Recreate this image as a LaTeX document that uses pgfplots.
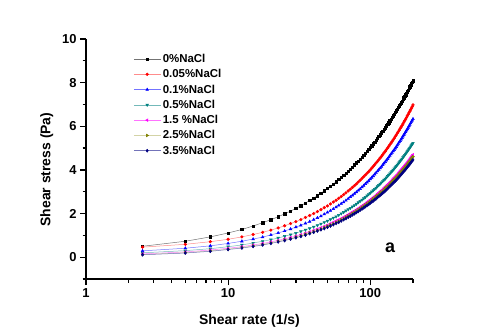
\documentclass[border=0pt]{standalone}
\usepackage{fontspec}
\setmainfont{Liberation Sans}
\usepackage{pgfplots}
\usepackage{pgfplotstable}
\pgfplotsset{compat=1.18}
\definecolor{cteal}{RGB}{0,128,128}
\definecolor{colive}{RGB}{128,128,0}
\definecolor{cnavy}{RGB}{0,0,128}
\definecolor{cmag}{RGB}{255,0,255}

% shear rate, then stress for 0, 0.05, 0.1, 0.5, 1.5, 2.5, 3.5 % NaCl
\pgfplotstableread{
x     a    b    c    d    e    f    g
2.5   0.50 0.46 0.29 0.20 0.15 0.12 0.11
5     0.73 0.59 0.41 0.30 0.24 0.21 0.19
7.5   0.93 0.71 0.52 0.39 0.33 0.29 0.27
10    1.11 0.82 0.63 0.48 0.41 0.37 0.35
12.5  1.27 0.93 0.73 0.56 0.48 0.45 0.42
15    1.43 1.04 0.83 0.65 0.56 0.52 0.49
17.5  1.58 1.14 0.92 0.73 0.63 0.59 0.56
20    1.72 1.24 1.02 0.80 0.70 0.66 0.63
22.5  1.85 1.34 1.11 0.88 0.77 0.73 0.70
25    1.99 1.44 1.20 0.96 0.84 0.80 0.76
27.5  2.11 1.54 1.29 1.03 0.90 0.86 0.83
30    2.24 1.63 1.38 1.10 0.97 0.93 0.89
32.5  2.36 1.72 1.46 1.18 1.03 0.99 0.95
35    2.48 1.82 1.55 1.25 1.10 1.06 1.01
37.5  2.60 1.91 1.63 1.32 1.16 1.12 1.08
40    2.71 2.00 1.72 1.39 1.23 1.18 1.14
42.5  2.82 2.09 1.80 1.46 1.29 1.24 1.20
45    2.93 2.18 1.88 1.53 1.35 1.30 1.26
47.5  3.04 2.27 1.97 1.60 1.41 1.37 1.31
50    3.15 2.35 2.05 1.66 1.47 1.43 1.37
52.5  3.25 2.44 2.13 1.73 1.54 1.49 1.43
55    3.35 2.53 2.21 1.80 1.60 1.54 1.49
57.5  3.46 2.61 2.29 1.86 1.66 1.60 1.55
60    3.56 2.70 2.37 1.93 1.72 1.66 1.60
62.5  3.65 2.78 2.45 2.00 1.77 1.72 1.66
65    3.75 2.87 2.52 2.06 1.83 1.78 1.72
67.5  3.85 2.95 2.60 2.13 1.89 1.84 1.77
70    3.95 3.04 2.68 2.19 1.95 1.89 1.83
72.5  4.04 3.12 2.76 2.25 2.01 1.95 1.88
75    4.13 3.20 2.83 2.32 2.07 2.01 1.94
77.5  4.23 3.28 2.91 2.38 2.12 2.06 1.99
80    4.32 3.36 2.98 2.44 2.18 2.12 2.05
82.5  4.41 3.45 3.06 2.51 2.24 2.18 2.10
85    4.50 3.53 3.13 2.57 2.29 2.23 2.16
87.5  4.59 3.61 3.21 2.63 2.35 2.29 2.21
90    4.68 3.69 3.28 2.69 2.40 2.34 2.26
92.5  4.77 3.77 3.36 2.75 2.46 2.40 2.32
95    4.86 3.85 3.43 2.82 2.52 2.45 2.37
97.5  4.94 3.92 3.50 2.88 2.57 2.51 2.42
100   5.03 4.00 3.58 2.94 2.63 2.56 2.48
102.5 5.11 4.08 3.65 3.00 2.68 2.62 2.53
105   5.20 4.16 3.72 3.06 2.74 2.67 2.58
107.5 5.28 4.24 3.80 3.12 2.79 2.72 2.63
110   5.37 4.32 3.87 3.18 2.84 2.78 2.68
112.5 5.45 4.39 3.94 3.24 2.90 2.83 2.74
115   5.53 4.47 4.01 3.30 2.95 2.88 2.79
117.5 5.61 4.55 4.08 3.36 3.01 2.94 2.84
120   5.70 4.62 4.15 3.42 3.06 2.99 2.89
122.5 5.78 4.70 4.23 3.48 3.11 3.04 2.94
125   5.86 4.78 4.30 3.54 3.17 3.09 2.99
127.5 5.94 4.85 4.37 3.59 3.22 3.15 3.04
130   6.02 4.93 4.44 3.65 3.27 3.20 3.09
132.5 6.09 5.00 4.51 3.71 3.33 3.25 3.14
135   6.17 5.08 4.58 3.77 3.38 3.30 3.20
137.5 6.25 5.16 4.65 3.83 3.43 3.35 3.25
140   6.33 5.23 4.72 3.89 3.48 3.41 3.30
142.5 6.41 5.30 4.79 3.94 3.53 3.46 3.35
145   6.48 5.38 4.86 4.00 3.59 3.51 3.40
147.5 6.56 5.45 4.92 4.06 3.64 3.56 3.45
150   6.64 5.53 4.99 4.12 3.69 3.61 3.49
152.5 6.71 5.60 5.06 4.17 3.74 3.66 3.54
155   6.79 5.68 5.13 4.23 3.79 3.71 3.59
157.5 6.86 5.75 5.20 4.29 3.85 3.76 3.64
160   6.94 5.82 5.27 4.34 3.90 3.81 3.69
162.5 7.01 5.90 5.33 4.40 3.95 3.86 3.74
165   7.08 5.97 5.40 4.46 4.00 3.91 3.79
167.5 7.16 6.04 5.47 4.51 4.05 3.96 3.84
170   7.23 6.11 5.54 4.57 4.10 4.01 3.89
172.5 7.30 6.19 5.61 4.62 4.15 4.07 3.94
175   7.38 6.26 5.67 4.68 4.20 4.12 3.98
177.5 7.45 6.33 5.74 4.74 4.25 4.16 4.03
180   7.52 6.40 5.81 4.79 4.30 4.21 4.08
182.5 7.59 6.48 5.87 4.85 4.35 4.26 4.13
185   7.66 6.55 5.94 4.90 4.40 4.31 4.18
187.5 7.74 6.62 6.01 4.96 4.45 4.36 4.22
190   7.81 6.69 6.07 5.01 4.50 4.41 4.27
192.5 7.88 6.76 6.14 5.07 4.55 4.46 4.32
195   7.95 6.83 6.21 5.12 4.60 4.51 4.37
197.5 8.02 6.90 6.27 5.18 4.65 4.56 4.42
200   8.09 6.98 6.34 5.23 4.70 4.61 4.46
}\datatable

\begin{document}
\begin{tikzpicture}
\begin{axis}[
    scale only axis, width=327bp, height=240bp,
    xmode=log, xmin=1, xmax=200,
    ymin=-1, ymax=10,
    axis lines=left,
    axis line style={-, line width=1.1pt},
    tick align=outside,
    major tick length=6bp,
    minor tick length=3.5bp,
    tick style={black, line width=1.2pt},
    xtick={1,10,100}, xticklabels={1,10,100},
    minor xtick={2,3,4,5,6,7,8,9,20,30,40,50,60,70,80,90,200},
    ytick={0,2,4,6,8,10}, minor ytick={-1,1,3,5,7,9},
    /pgf/number format/assume math mode=true,
    yticklabel style={font=\bfseries\fontsize{13}{13}\selectfont},
    xticklabel style={font=\bfseries\fontsize{13}{13}\selectfont},
    xlabel={Shear rate (1/s)}, ylabel={Shear stress (Pa)},
    label style={font=\bfseries\fontsize{14}{14}\selectfont},
    xlabel style={at={(axis description cs:0.5,-0.174)}, anchor=center},
    ylabel style={at={(axis description cs:-0.12,0.456)}, anchor=center},
    legend style={draw=none, fill=none, at={(axis description cs:0.145,0.946)},
        anchor=north west, font=\bfseries\fontsize{11.5}{12}\selectfont,
        row sep=1.5bp, inner sep=0pt},
    legend cell align=left,
    legend image code/.code={\draw[mark repeat=2,mark phase=2]
        plot coordinates {(0cm,0cm) (0.47cm,0cm) (0.94cm,0cm)};},
    every axis plot/.append style={line width=0.5pt, mark size=1.5pt},
]
\addplot[black!55, mark=square*, mark options={black, fill=black, scale=0.8}] table[x=x,y=a] {\datatable};
\addplot[red!45, mark=*, mark options={red, fill=red, scale=0.9}] table[x=x,y=b] {\datatable};
\addplot[blue!55, mark=triangle*, mark options={blue, fill=blue}] table[x=x,y=c] {\datatable};
\addplot[cteal!55, mark=triangle*, mark options={cteal, fill=cteal, rotate=180}] table[x=x,y=d] {\datatable};
\addplot[cmag!55, mark=triangle*, mark options={cmag, fill=cmag, rotate=90}] table[x=x,y=e] {\datatable};
\addplot[colive!35, mark=triangle*, mark options={colive, fill=colive, rotate=-90}] table[x=x,y=f] {\datatable};
\addplot[cnavy!55, mark=diamond*, mark options={cnavy, fill=cnavy}] table[x=x,y=g] {\datatable};
\legend{0\%NaCl, 0.05\%NaCl, 0.1\%NaCl, 0.5\%NaCl, 1.5 \%NaCl, 2.5\%NaCl, 3.5\%NaCl}
\node[font=\bfseries\fontsize{18}{18}\selectfont] at (axis description cs:0.93,0.13) {a};
\end{axis}
\path (-86bp,-56bp) rectangle (394bp,279bp);
\end{tikzpicture}
\end{document}
